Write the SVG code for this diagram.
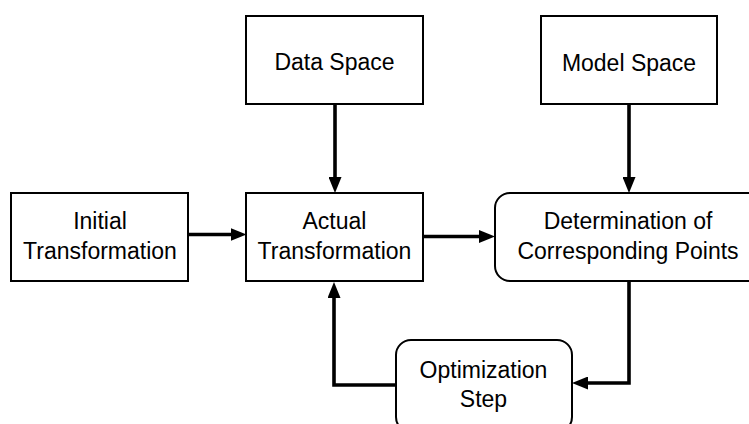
<svg xmlns="http://www.w3.org/2000/svg" width="749" height="424" viewBox="0 0 749 424">
  <style>
    .box { fill: #ffffff; stroke: #000000; stroke-width: 2; }
    .label { font-family: "Liberation Sans", Arial, sans-serif; font-size: 23px; fill: #000000; text-anchor: middle; }
    .conn { fill: none; stroke: #000000; stroke-width: 3.6; stroke-linejoin: miter; marker-end: url(#arrow); }
  </style>
  <defs>
    <marker id="arrow" markerUnits="userSpaceOnUse" markerWidth="16" markerHeight="13" refX="8" refY="6.5" orient="auto">
      <path d="M0,0 L16,6.5 L0,13 Z" fill="#000000"/>
    </marker>
  </defs>
  <rect width="749" height="424" fill="#ffffff"/>

  <g id="connectors">
    <path class="conn" d="M335,104 V185"/>
    <path class="conn" d="M629,104 V185"/>
    <path class="conn" d="M188,234.5 H238.5"/>
    <path class="conn" d="M423,236.5 H487"/>
    <path class="conn" d="M629,281 V383 H580"/>
    <path class="conn" d="M396,385 H334 V290"/>
  </g>

  <g id="data-space">
    <rect class="box" x="246" y="16" width="177" height="88"/>
    <text class="label" x="334.5" y="70">Data Space</text>
  </g>

  <g id="model-space">
    <rect class="box" x="541" y="16" width="176" height="88"/>
    <text class="label" x="629" y="70.5">Model Space</text>
  </g>

  <g id="initial-transformation">
    <rect class="box" x="11" y="193" width="177" height="88"/>
    <text class="label" x="100" y="228.5">Initial</text>
    <text class="label" x="100" y="258.5">Transformation</text>
  </g>

  <g id="actual-transformation">
    <rect class="box" x="246" y="193" width="177" height="88"/>
    <text class="label" x="334.5" y="229">Actual</text>
    <text class="label" x="334.5" y="259">Transformation</text>
  </g>

  <g id="determination">
    <rect class="box" x="495" y="193" width="268" height="88" rx="15" ry="15"/>
    <text class="label" x="628" y="228.5">Determination of</text>
    <text class="label" x="628" y="258.5">Corresponding Points</text>
  </g>

  <g id="optimization-step">
    <rect class="box" x="396" y="340" width="176" height="92" rx="15" ry="15"/>
    <text class="label" x="483.5" y="378">Optimization</text>
    <text class="label" x="483.5" y="406.5">Step</text>
  </g>
</svg>
